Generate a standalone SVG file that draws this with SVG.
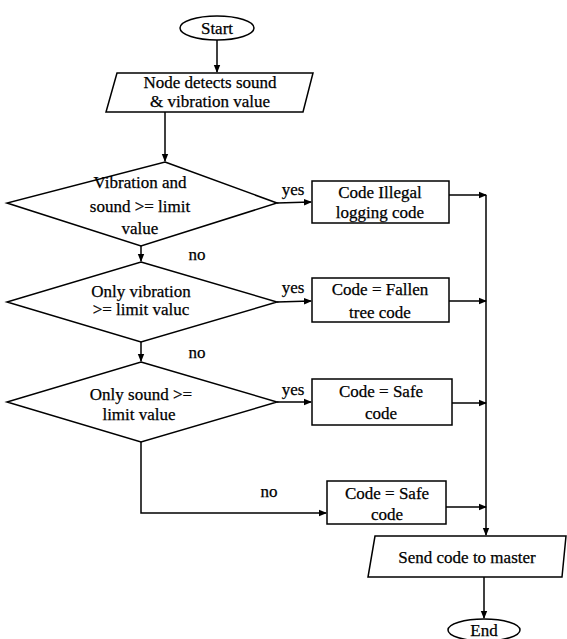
<svg xmlns="http://www.w3.org/2000/svg" width="567" height="639" viewBox="0 0 567 639" font-family="'Liberation Serif', 'DejaVu Serif', serif">
<defs>
<marker id="ah" markerWidth="8" markerHeight="8" refX="7" refY="4" orient="auto" markerUnits="userSpaceOnUse">
<path d="M0,0.8 L8,4 L0,7.2 Z" fill="#000"/>
</marker>
<style>
.s{fill:#fff;stroke:#000;stroke-width:1.5}
.c{fill:none;stroke:#000;stroke-width:1.5}
.a{marker-end:url(#ah)}
text{font-family:'Liberation Serif','DejaVu Serif',serif;font-size:17px;fill:#000;stroke:#000;stroke-width:0.25;text-anchor:middle}
</style>
</defs>
<rect width="567" height="639" fill="#fff"/>
<g id="connectors">
<path class="c a" d="M217,40 V72"/>
<path class="c a" d="M165,112 V161"/>
<path class="c a" d="M141,246 V261"/>
<path class="c a" d="M141,342 V361"/>
<path class="c a" d="M277,203 L311,202"/>
<path class="c a" d="M277,302 L311,301"/>
<path class="c a" d="M277,402 L311,402"/>
<path class="c a" d="M141,442 V513 H326"/>
<path class="c a" d="M449,195 H486"/>
<path class="c a" d="M449,301 H486"/>
<path class="c a" d="M452,403 H486"/>
<path class="c a" d="M446,507 H486"/>
<path class="c a" d="M486,195 V535"/>
<path class="c a" d="M484,577 V618"/>
<text x="293" y="195">yes</text>
<text x="293" y="293">yes</text>
<text x="293" y="395">yes</text>
<text x="197" y="260">no</text>
<text x="197" y="358">no</text>
<text x="269" y="497">no</text>
</g>
<g id="start">
<ellipse class="s" cx="217" cy="28" rx="37" ry="12"/>
<text x="217" y="34">Start</text>
</g>
<g id="input">
<polygon class="s" points="117,73 313,73 303,112 106,112"/>
<text x="210" y="88">Node detects sound</text>
<text x="210" y="107">&amp; vibration value</text>
</g>
<g id="decision1">
<polygon class="s" points="165,162 277,203 141,246 7,203"/>
<text x="140" y="188">Vibration and</text>
<text x="140" y="212">sound &gt;= limit</text>
<text x="140" y="234">value</text>
</g>
<g id="decision2">
<polygon class="s" points="141,262 277,302 141,342 7,302"/>
<text x="141" y="297">Only vibration</text>
<text x="141" y="315">&gt;= limit valuc</text>
</g>
<g id="decision3">
<polygon class="s" points="141,362 277,402 141,442 7,402"/>
<text x="141" y="400">Only sound &gt;=</text>
<text x="139" y="420">limit value</text>
</g>
<g id="box1">
<rect class="s" x="312" y="181" width="137" height="42"/>
<text x="380" y="198">Code Illegal</text>
<text x="380" y="218">logging code</text>
</g>
<g id="box2">
<rect class="s" x="312" y="278" width="137" height="44"/>
<text x="380" y="295">Code = Fallen</text>
<text x="380" y="318">tree code</text>
</g>
<g id="box3">
<rect class="s" x="312" y="379" width="140" height="46"/>
<text x="381" y="397">Code = Safe</text>
<text x="381" y="419">code</text>
</g>
<g id="box4">
<rect class="s" x="327" y="481" width="119" height="43"/>
<text x="387" y="499">Code = Safe</text>
<text x="387" y="520">code</text>
</g>
<g id="output">
<polygon class="s" points="375,536 566,536 562,577 368,577"/>
<text x="467" y="563">Send code to master</text>
</g>
<g id="end">
<ellipse class="s" cx="484" cy="630" rx="36" ry="11"/>
<text x="484" y="636">End</text>
</g>
</svg>
